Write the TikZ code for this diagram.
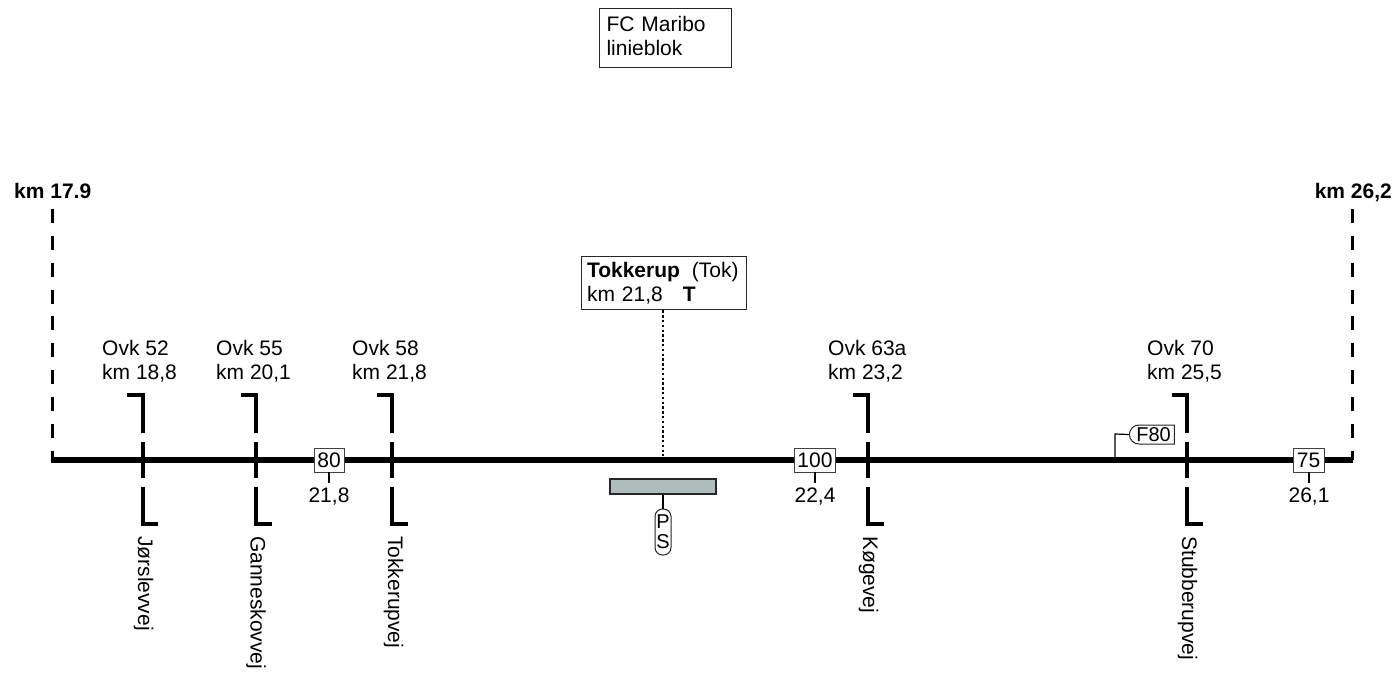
\documentclass[tikz,border=0pt]{standalone}
\usepackage{fontspec}
\setmainfont{Liberation Sans}
\usetikzlibrary{shapes.misc}
\definecolor{platformgrey}{HTML}{AFBDBD}
\tikzset{
  txt/.style={inner sep=0pt,font=\fontsize{21}{24}\selectfont,text=black},
  twoline/.style={txt,align=left,anchor=north west},
  roadname/.style={txt,rotate=-90,anchor=base west},
  infobox/.style={txt,draw=black!85,line width=1pt,align=left,anchor=north west,fill=white},
  kmbox/.style={txt,draw=black!75,line width=1pt,fill=white,minimum height=24pt,inner xsep=0pt},
  track/.style={line width=6pt},
  overpass/.style={line width=4.4pt},
  thin link/.style={line width=1.2pt},
  limit/.style={line width=3pt,dash pattern=on 14pt off 12.85pt},
}
\newcommand{\ovpass}[4]{% x, hook left, hook right, name
  \coordinate (#4a) at (#2,395);
  \coordinate (#4b) at (#1,395);
  \coordinate (#4c) at (#1,433);
  \coordinate (#4d) at (#1,442);
  \coordinate (#4e) at (#1,478);
  \coordinate (#4f) at (#1,487);
  \coordinate (#4g) at (#1,524);
  \coordinate (#4h) at (#3,524);
  \draw[overpass,line join=miter] (#4a) -- (#4b) -- (#4c);
  \draw[overpass] (#4d) -- (#4e);
  \draw[overpass,line join=miter] (#4f) -- (#4g) -- (#4h);
}
\begin{document}
\begin{tikzpicture}[x=1pt,y=-1pt]
\useasboundingbox (0,0) rectangle (1400,673);

% limits
\coordinate (L0) at (52,209);
\coordinate (L1) at (52,460);
\coordinate (R0) at (1352,209);
\coordinate (R1) at (1352,460);
\coordinate (TL) at (51,460);
\coordinate (TR) at (1353,460);
\draw[limit] (L0) -- (L1);
\draw[limit] (R0) -- (R1);

\coordinate (F0) at (1115,460);
\coordinate (F1) at (1115,434);

% main track
\draw[track] (TL) -- (TR);

% overpasses
\ovpass{143}{127}{158}{A}
\ovpass{256}{241}{272}{B}
\ovpass{392}{377}{408}{C}
\ovpass{868}{853}{884}{D}
\ovpass{1187}{1172}{1203}{E}

% top info box
\node[infobox,inner xsep=7pt,inner ysep=8pt,text width=118pt] (fc) at (599,8) {FC Maribo\\linieblok\rule[-4pt]{0pt}{4pt}};

% station
\node[infobox,inner xsep=5.5pt,inner ysep=5.7pt,text width=154pt] (st) at (581,256) {\textbf{Tokkerup}\hspace{12pt}(Tok)\\km 21,8\hspace{20pt}\textbf{T}\rule[-2.3pt]{0pt}{2.3pt}};
\coordinate (stT) at (663,456);
\draw[line width=2.4pt,dash pattern=on 2.4pt off 2.4pt] (st.south -| stT) -- (stT);

% platform
\node[draw=black!85,line width=1.2pt,fill=platformgrey,minimum width=106pt,minimum height=15pt,inner sep=0pt] (pf) at (663,486.5) {};
\node[txt,draw=black!85,line width=1pt,fill=white,rounded corners=7.5pt,align=center,minimum width=16pt,minimum height=46pt,font=\fontsize{20}{20}\selectfont] (ps) at (663,532) {P\\S};
\draw[thin link] (pf) -- (ps);

% speed boxes
\node[kmbox,minimum width=30pt] (k80) at (329,460) {80};
\node[kmbox,minimum width=41pt] (k100) at (815,460) {100};
\node[kmbox,minimum width=31pt] (k75) at (1308.5,460) {75};
\node[txt,anchor=base] (t80) at (329,502) {21,8};
\node[txt,anchor=base] (t100) at (815,502) {22,4};
\node[txt,anchor=base] (t75) at (1309,502) {26,1};
\coordinate (t80a) at (329,483);
\coordinate (t100a) at (815,483);
\coordinate (t75a) at (1309,483);
\draw[thin link] (k80) ++(0,12) -- (t80a);
\draw[thin link] (k100) ++(0,12) -- (t100a);
\draw[thin link] (k75) ++(0.5,12) -- (t75a);

% F80 sign
\node[txt,draw=black!85,line width=1pt,fill=white,rounded rectangle,rounded rectangle right arc=none,minimum width=45pt,minimum height=19pt,inner sep=0pt,font=\fontsize{20}{20}\selectfont] (f80) at (1153.5,434.5) {F80};
\draw[thin link] (F0) -- (F1) -- (f80.west);

% km labels
\node[txt,anchor=base west,font=\bfseries\fontsize{21}{24}\selectfont] (kmL) at (14,198) {km 17.9};
\node[txt,anchor=base east,font=\bfseries\fontsize{21}{24}\selectfont] (kmR) at (1392,198) {km 26,2};

% overpass labels
\node[twoline] (oA) at (102,340) {Ovk 52\\km 18,8};
\node[twoline] (oB) at (216,340) {Ovk 55\\km 20,1};
\node[twoline] (oC) at (352,340) {Ovk 58\\km 21,8};
\node[twoline] (oD) at (828,340) {Ovk 63a\\km 23,2};
\node[twoline] (oE) at (1147,340) {Ovk 70\\km 25,5};

% road names
\node[roadname] (rA) at (138,536) {Jørslevvej};
\node[roadname] (rB) at (250.5,536) {Ganneskovvej};
\node[roadname] (rC) at (388,536) {Tokkerupvej};
\node[roadname] (rD) at (863,536) {Køgevej};
\node[roadname] (rE) at (1182,536) {Stubberupvej};
\end{tikzpicture}
\end{document}
